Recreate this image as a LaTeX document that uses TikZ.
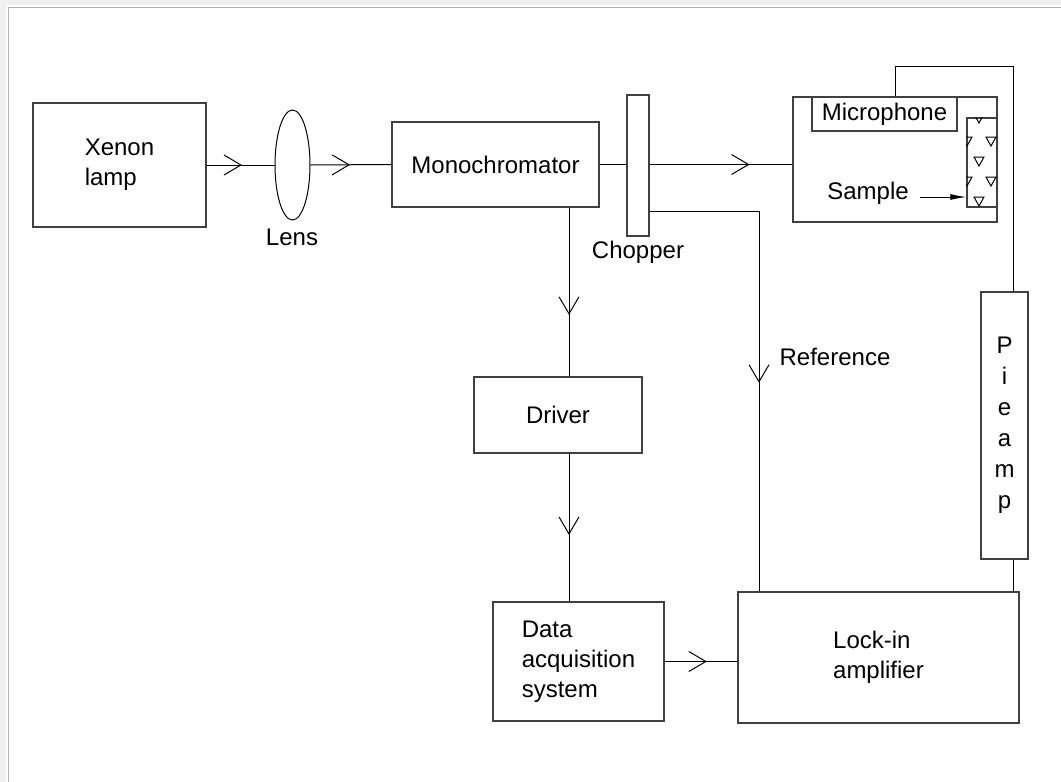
\documentclass[tikz,border=0pt]{standalone}
\usepackage{fontspec}
\setmainfont{Liberation Sans}
\usetikzlibrary{arrows.meta,decorations.markings,shapes.geometric}

\tikzset{
  box/.style={draw=black!75,line width=0.7pt,inner sep=0pt,align=left,
    font=\fontsize{12}{15}\selectfont},
  lbl/.style={font=\fontsize{12}{15}\selectfont},
  flowarrow/.style={postaction={decorate},decoration={markings,
    mark=at position #1 with {\arrow{Straight Barb[length=8.5pt,width=10pt]}}}},
}

\begin{document}
\begin{tikzpicture}[x=0.5pt,y=-0.5pt,line width=0.5pt]
  \useasboundingbox (0,0) rectangle (1061,782);
  \fill[gray!12] (0,0) rectangle (1061,5);
  \fill[gray!12] (0,0) rectangle (6,782);
  \draw[gray!60] (8,782) -- (8,7) -- (1061,7);

  % optical path
  \node[box,minimum width=86.5pt,minimum height=62pt] (lamp) at (119.5,165) {Xenon\\lamp};
  \node[draw,ellipse,minimum width=17.5pt,minimum height=55pt,inner sep=0pt] (lens) at (292.5,165) {};
  \node[lbl] (lenslbl) at (292,237) {Lens};
  \node[box,minimum width=103.5pt,minimum height=42.5pt] (mono) at (495.5,164.5) {Monochromator};
  \node[box,minimum width=11pt,minimum height=70.5pt] (chopper) at (638,165.5) {};
  \node[lbl] (chopperlbl) at (638,252) {Chopper};

  % photoacoustic cell
  \node[box,minimum width=102pt,minimum height=62.5pt] (cell) at (895,159.5) {};
  \node[box,minimum width=72.5pt,minimum height=17pt] (mic) at (884.5,114) {Microphone};
  \node[box,minimum width=15pt,minimum height=44.5pt] (sample) at (982,162.5) {};
  \begin{scope}
    \clip (sample.south west) rectangle (sample.north east);
    \foreach \tx/\ty in {979/114,967/137,991/137,979/157,967/177,991/177,979/197}
      \draw (\tx-5,\ty) -- (\tx+5,\ty) -- (\tx,\ty+9) -- cycle;
  \end{scope}
  \node[lbl] (samplelbl) at (868,193) {Sample};

  % electronics
  \node[box,minimum width=84pt,minimum height=38pt] (driver) at (558,415) {Driver};
  \node[box,minimum width=85.5pt,minimum height=59.5pt] (daq) at (578.5,661.5) {Data\\acquisition\\system};
  \node[box,minimum width=140.5pt,minimum height=65.5pt] (lockin) at (878.5,657.5) {Lock-in\\amplifier};
  \node[box,minimum width=23.5pt,minimum height=133.5pt,
    font=\fontsize{12}{15.5}\selectfont,align=center] (preamp) at (1004.5,425.5) {P\\i\\e\\a\\m\\p};
  \node[lbl] (reflbl) at (835,357) {Reference};

  \coordinate (dcol) at (569,0);
  \coordinate (rcol) at (759,211);
  \coordinate (pcol) at (1013,66);

  % connections
  \draw[flowarrow=0.52] (lamp.east) -- (lens.west);
  \draw[flowarrow=0.49] (lens.east) -- (mono.west);
  \draw (mono.east) -- (mono.east -| chopper.west);
  \draw[flowarrow=0.70] (chopper.east |- mono.east) -- (cell.west |- mono.east);
  \draw[flowarrow=0.635] (mono.south -| dcol) -- (driver.north -| dcol);
  \draw[flowarrow=0.55] (driver.south -| dcol) -- (daq.north -| dcol);
  \draw[flowarrow=0.58] (daq.east) -- (daq.east -| lockin.west);
  \draw[flowarrow=0.574] (chopper.east |- rcol) -| (lockin.north -| rcol);
  \draw (cell.north) |- (pcol) -- (preamp.north -| pcol);
  \draw (preamp.south -| pcol) -- (lockin.north -| pcol);
  \draw[-{Latex[length=8pt,width=3pt]}] ([xshift=2pt,yshift=-2pt]samplelbl.east)
    -- ([yshift=-2pt]samplelbl.east -| sample.west);
\end{tikzpicture}
\end{document}
